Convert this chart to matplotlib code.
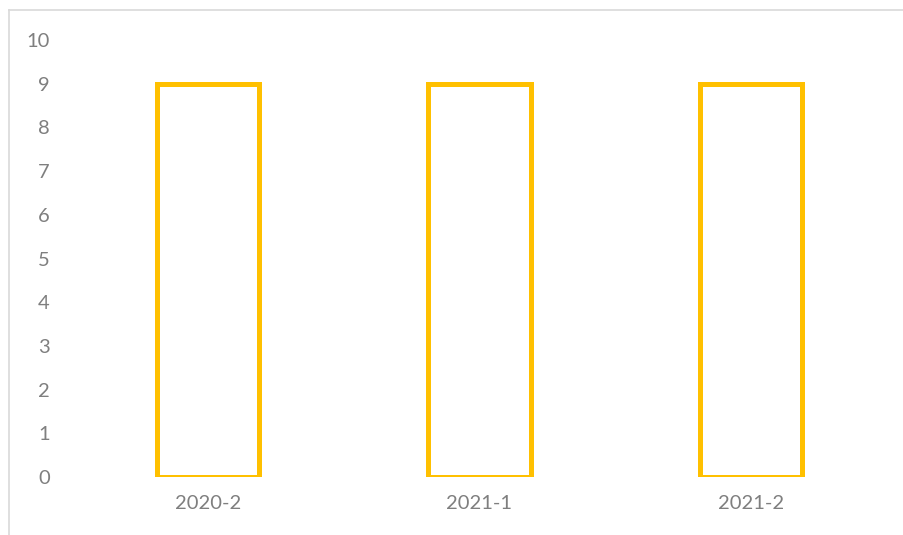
import matplotlib
matplotlib.use("Agg")
import matplotlib.pyplot as plt
from matplotlib.lines import Line2D

categories = ["2020-2", "2021-1", "2021-2"]
values = [9, 9, 9]
yticks = list(range(0, 11))

W, H = 904, 535
fig = plt.figure(figsize=(W / 100, H / 100), dpi=100)
ax = fig.add_axes([72 / W, (H - 477) / H, (887 - 72) / W, (477 - 40) / H])

ax.bar(range(len(categories)), values, width=0.376, facecolor="white",
       edgecolor="#FFC000", linewidth=3.6)
ax.set_xlim(-0.5, len(categories) - 0.5)
ax.set_ylim(0, 10)
ax.set_yticks(yticks)
ax.set_xticks(range(len(categories)))
ax.set_xticklabels(categories)
for s in ax.spines.values():
    s.set_visible(False)
ax.tick_params(axis="both", length=0, colors="#7f7f7f", labelsize=14.5)
ax.tick_params(axis="y", pad=16)
ax.tick_params(axis="x", pad=13)
for lbl in ax.get_xticklabels() + ax.get_yticklabels():
    lbl.set_family(["Lato", "DejaVu Sans"])

# chart-area border (top and left edges visible)
fig.add_artist(Line2D([9 / W, 1], [1 - 10 / H, 1 - 10 / H], color="#d9d9d9", lw=1.2))
fig.add_artist(Line2D([9 / W, 9 / W], [0, 1 - 10 / H], color="#d9d9d9", lw=1.2))

fig.savefig("out.png", dpi=100)
